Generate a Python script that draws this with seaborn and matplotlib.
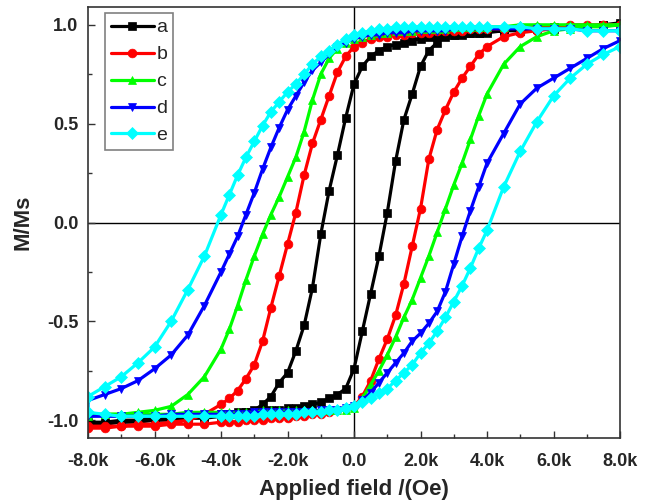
import pandas as pd
import matplotlib
matplotlib.use("Agg")
import matplotlib.pyplot as plt
from matplotlib.ticker import MultipleLocator, FuncFormatter
import seaborn as sns

# applied field grid (Oe), both branches use it
H = [-8000, -7500, -7000, -6500, -6000, -5500, -5000, -4500,
     -4000, -3750, -3500, -3250, -3000, -2750, -2500, -2250,
     -2000, -1750, -1500, -1250, -1000, -750, -500, -250,
     0,
     250, 500, 750, 1000, 1250, 1500, 1750, 2000,
     2250, 2500, 2750, 3000, 3250, 3500, 3750, 4000,
     4500, 5000, 5500, 6000, 6500, 7000, 7500, 8000]

# M/Ms on the descending (dn) and ascending (up) branch, listed along H
a_dn = [-1.02, -1.02, -1.01, -1.01, -1.00, -1.00, -0.99, -0.99,
        -0.98, -0.97, -0.97, -0.96, -0.95, -0.92, -0.88, -0.81,
        -0.76, -0.65, -0.52, -0.33, -0.06, 0.16, 0.34, 0.53,
        0.70,
        0.79, 0.84, 0.87, 0.89, 0.90, 0.91, 0.92, 0.93,
        0.94, 0.94, 0.95, 0.95, 0.96, 0.96, 0.96, 0.97,
        0.97, 0.98, 0.98, 0.99, 0.99, 0.99, 1.00, 1.01]
a_up = [-1.01, -1.01, -1.00, -1.00, -0.99, -0.99, -0.98, -0.98,
        -0.97, -0.97, -0.96, -0.96, -0.96, -0.95, -0.95, -0.95,
        -0.94, -0.94, -0.93, -0.92, -0.91, -0.89, -0.87, -0.84,
        -0.74,
        -0.55, -0.36, -0.17, 0.05, 0.31, 0.52, 0.65, 0.79,
        0.87, 0.91, 0.94, 0.95, 0.95, 0.96, 0.96, 0.96,
        0.97, 0.97, 0.98, 0.98, 0.99, 0.99, 1.00, 1.00]

b_dn = [-1.03, -1.03, -1.03, -1.02, -1.02, -1.01, -1.00, -0.97,
        -0.92, -0.89, -0.85, -0.79, -0.72, -0.60, -0.43, -0.27,
        -0.11, 0.05, 0.24, 0.40, 0.52, 0.64, 0.76, 0.84,
        0.89,
        0.91, 0.93, 0.94, 0.94, 0.95, 0.95, 0.96, 0.96,
        0.96, 0.97, 0.97, 0.97, 0.97, 0.98, 0.98, 0.98,
        0.98, 0.99, 0.99, 0.99, 1.00, 1.00, 1.00, 1.00]
b_up = [-1.04, -1.04, -1.03, -1.03, -1.03, -1.02, -1.02, -1.02,
        -1.01, -1.01, -1.01, -1.00, -1.00, -1.00, -0.99, -0.99,
        -0.99, -0.98, -0.98, -0.97, -0.97, -0.96, -0.95, -0.94,
        -0.93,
        -0.88, -0.80, -0.69, -0.59, -0.47, -0.31, -0.12, 0.07,
        0.32, 0.47, 0.57, 0.66, 0.73, 0.79, 0.85, 0.89,
        0.94, 0.96, 0.97, 0.98, 0.99, 0.99, 1.00, 1.00]

c_dn = [-0.98, -0.97, -0.97, -0.96, -0.95, -0.93, -0.87, -0.78,
        -0.64, -0.54, -0.42, -0.29, -0.17, -0.06, 0.04, 0.13,
        0.23, 0.33, 0.46, 0.62, 0.75, 0.83, 0.88, 0.91,
        0.93,
        0.94, 0.95, 0.96, 0.96, 0.97, 0.97, 0.97, 0.98,
        0.98, 0.98, 0.98, 0.99, 0.99, 0.99, 0.99, 0.99,
        0.99, 1.00, 1.00, 1.00, 1.00, 1.00, 1.00, 1.00]
c_up = [-0.97, -0.97, -0.97, -0.97, -0.97, -0.97, -0.96, -0.96,
        -0.96, -0.96, -0.96, -0.96, -0.96, -0.95, -0.95, -0.95,
        -0.95, -0.95, -0.95, -0.95, -0.95, -0.95, -0.95, -0.95,
        -0.94,
        -0.89, -0.82, -0.75, -0.67, -0.58, -0.48, -0.39, -0.28,
        -0.17, -0.05, 0.07, 0.19, 0.30, 0.42, 0.54, 0.65,
        0.80, 0.89, 0.94, 0.97, 0.98, 0.99, 0.99, 1.00]

d_dn = [-0.90, -0.87, -0.84, -0.80, -0.74, -0.67, -0.57, -0.42,
        -0.25, -0.16, -0.07, 0.04, 0.15, 0.27, 0.38, 0.48,
        0.57, 0.64, 0.71, 0.77, 0.81, 0.85, 0.89, 0.91,
        0.93,
        0.94, 0.95, 0.95, 0.96, 0.96, 0.96, 0.97, 0.97,
        0.97, 0.97, 0.97, 0.98, 0.98, 0.98, 0.98, 0.98,
        0.98, 0.98, 0.98, 0.98, 0.98, 0.97, 0.97, 0.97]
d_up = [-0.98, -0.98, -0.98, -0.98, -0.98, -0.97, -0.97, -0.97,
        -0.97, -0.97, -0.97, -0.97, -0.96, -0.96, -0.96, -0.96,
        -0.96, -0.96, -0.96, -0.96, -0.95, -0.95, -0.95, -0.94,
        -0.93,
        -0.90, -0.86, -0.81, -0.76, -0.71, -0.66, -0.60, -0.56,
        -0.51, -0.45, -0.35, -0.21, -0.07, 0.06, 0.18, 0.30,
        0.45, 0.60, 0.68, 0.73, 0.78, 0.83, 0.88, 0.92]

e_dn = [-0.88, -0.83, -0.78, -0.71, -0.63, -0.50, -0.34, -0.17,
        0.04, 0.14, 0.24, 0.33, 0.41, 0.49, 0.56, 0.61,
        0.66, 0.70, 0.75, 0.80, 0.84, 0.87, 0.90, 0.93,
        0.95,
        0.96, 0.97, 0.98, 0.98, 0.99, 0.99, 0.99, 0.99,
        0.99, 0.99, 0.99, 0.99, 0.99, 0.99, 0.99, 0.99,
        0.99, 0.99, 0.98, 0.98, 0.98, 0.97, 0.97, 0.97]
e_up = [-0.96, -0.97, -0.98, -0.98, -0.98, -0.98, -0.98, -0.98,
        -0.98, -0.98, -0.98, -0.98, -0.98, -0.97, -0.97, -0.97,
        -0.97, -0.97, -0.96, -0.96, -0.96, -0.95, -0.95, -0.94,
        -0.93,
        -0.91, -0.89, -0.86, -0.84, -0.80, -0.76, -0.72, -0.66,
        -0.61, -0.55, -0.48, -0.40, -0.32, -0.23, -0.13, -0.04,
        0.18, 0.36, 0.51, 0.64, 0.73, 0.80, 0.85, 0.89]

samples = ["a", "b", "c", "d", "e"]
colors = ["#000000", "#ff0000", "#00ff00", "#0000ff", "#00ffff"]
marker_list = ["s", "o", "^", "v", "D"]

# build the loops: +8k -> -8k on the descending branch, then back up
frames = []
for name, dn, up in zip(samples, [a_dn, b_dn, c_dn, d_dn, e_dn],
                        [a_up, b_up, c_up, d_up, e_up]):
    frames.append(pd.DataFrame({"Field": H[::-1] + H,
                                "M": dn[::-1] + up,
                                "Sample": name}))
df = pd.concat(frames, ignore_index=True)

sns.set_theme(style="ticks")
plt.rcParams["font.family"] = ["Liberation Sans", "DejaVu Sans"]

fig = plt.figure(figsize=(6.51, 5.01), dpi=100)
ax = fig.add_axes([0.1352, 0.1257, 0.8172, 0.8603])

sns.lineplot(data=df, x="Field", y="M", hue="Sample", style="Sample",
             palette=colors, markers=marker_list, dashes=False,
             sort=False, estimator=None, linewidth=2.3, markersize=6.3,
             legend=False, ax=ax)

data_lines = list(ax.lines)
for ln in data_lines:
    ln.set_markeredgecolor(ln.get_color())
    ln.set_markeredgewidth(0.5)

ax.axhline(0, color="black", lw=1.0, zorder=0.5)
ax.axvline(0, color="black", lw=1.0, zorder=0.5)

ax.set_xlim(-8000, 8000)
ax.set_ylim(-1.09, 1.09)
ax.xaxis.set_major_locator(MultipleLocator(2000))
ax.xaxis.set_minor_locator(MultipleLocator(1000))
ax.yaxis.set_major_locator(MultipleLocator(0.5))
ax.yaxis.set_minor_locator(MultipleLocator(0.25))
ax.xaxis.set_major_formatter(FuncFormatter(
    lambda v, p: "0.0" if v == 0 else f"{v / 1000:.1f}k"))
ax.yaxis.set_major_formatter(FuncFormatter(lambda v, p: f"{v:.1f}"))

ax.tick_params(which="both", direction="in", top=False, right=False,
               color="#333333")
ax.tick_params(which="major", length=5, width=1)
ax.tick_params(which="minor", length=3, width=1)
ax.tick_params(axis="x", which="major", pad=11)
ax.tick_params(axis="y", which="major", pad=7)
for lab in ax.get_xticklabels() + ax.get_yticklabels():
    lab.set_fontsize(13)
    lab.set_fontweight("bold")
for sp in ax.spines.values():
    sp.set_visible(True)
    sp.set_linewidth(1.2)
    sp.set_color("#333333")

ax.set_xlabel("Applied field /(Oe)", fontsize=16, fontweight="bold", labelpad=6)
ax.set_ylabel("M/Ms", fontsize=16, fontweight="bold", labelpad=10)

leg = ax.legend(data_lines, samples, loc="upper left",
                bbox_to_anchor=(0.032, 0.986), borderaxespad=0,
                fontsize=14, numpoints=1, handlelength=2.2,
                handletextpad=0.15, labelspacing=0.48, borderpad=0.3,
                fancybox=False, framealpha=1)
leg.get_frame().set_edgecolor("#808080")
leg.get_frame().set_linewidth(1.2)

fig.savefig("out.png", dpi=100)
